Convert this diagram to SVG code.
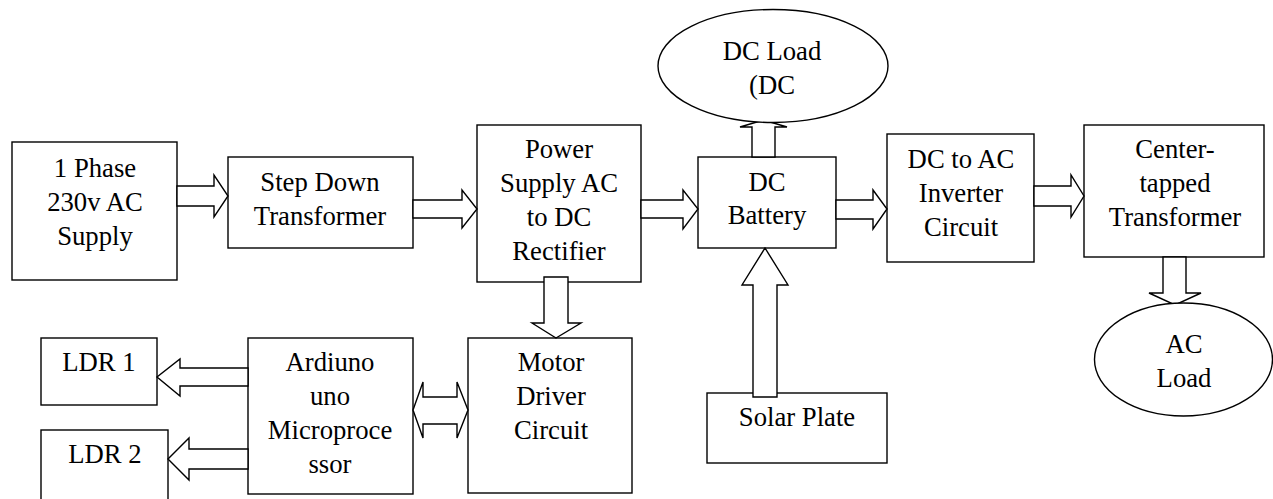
<svg xmlns="http://www.w3.org/2000/svg" width="1273" height="499" viewBox="0 0 1273 499">
<style>
.b{fill:#fff;stroke:#000;stroke-width:1.4}
.a{fill:#fff;stroke:#000;stroke-width:1.4;stroke-linejoin:miter}
.t{font-family:'Liberation Serif','DejaVu Serif',serif;font-size:26.7px;fill:#000;text-anchor:middle}
</style>
<rect width="1273" height="499" fill="#fff"/>
<g id="n-phase"><rect class="b" x="12" y="142" width="165" height="138"/><text class="t" x="95" y="177">1 Phase</text><text class="t" x="95" y="211">230v AC</text><text class="t" x="95" y="245">Supply</text></g>
<g id="n-stepdown"><rect class="b" x="228" y="157" width="185" height="91"/><text class="t" x="320" y="191">Step Down</text><text class="t" x="320" y="225">Transformer</text></g>
<g id="n-rectifier"><rect class="b" x="477" y="125" width="164" height="157"/><text class="t" x="559" y="158">Power</text><text class="t" x="559" y="192">Supply AC</text><text class="t" x="559" y="226">to DC</text><text class="t" x="559" y="260">Rectifier</text></g>
<g id="n-battery"><rect class="b" x="698" y="157" width="138" height="91"/><text class="t" x="767" y="191">DC</text><text class="t" x="767" y="224">Battery</text></g>
<g id="n-inverter"><rect class="b" x="887" y="134" width="147" height="128"/><text class="t" x="961" y="168">DC to AC</text><text class="t" x="961" y="202">Inverter</text><text class="t" x="961" y="236">Circuit</text></g>
<g id="n-ct"><rect class="b" x="1084" y="125" width="180" height="132"/><text class="t" x="1175" y="158">Center-</text><text class="t" x="1175" y="192">tapped</text><text class="t" x="1175" y="226">Transformer</text></g>
<g id="n-ldr1"><rect class="b" x="41" y="338" width="116" height="67"/><text class="t" x="99" y="371">LDR 1</text></g>
<g id="n-ldr2"><rect class="b" x="41" y="430" width="127" height="80"/><text class="t" x="105" y="463">LDR 2</text></g>
<g id="n-arduino"><rect class="b" x="248" y="338" width="165" height="156"/><text class="t" x="330" y="371">Ardiuno</text><text class="t" x="330" y="405">uno</text><text class="t" x="330" y="439">Microproce</text><text class="t" x="330" y="473">ssor</text></g>
<g id="n-motor"><rect class="b" x="468" y="338" width="164" height="155"/><text class="t" x="551" y="371">Motor</text><text class="t" x="551" y="405">Driver</text><text class="t" x="551" y="439">Circuit</text></g>
<g id="n-solar"><rect class="b" x="707" y="393" width="180" height="70"/><text class="t" x="797" y="426">Solar Plate</text></g>
<g id="connectors">
<polygon class="a" points="177,186 214,186 214,175 228,196 214,217 214,206 177,206"/>
<polygon class="a" points="413,200 462,200 462,190 477,209 462,228 462,218 413,218"/>
<polygon class="a" points="641,200 683,200 683,190 698,209 683,229 683,218 641,218"/>
<polygon class="a" points="836,200 873,200 873,190 887,209 873,229 873,219 836,219"/>
<polygon class="a" points="1034,186 1071,186 1071,175 1084,196 1071,217 1071,206 1034,206"/>
<polygon class="a" points="1163,257 1163,293 1149,293 1175,305 1201,293 1186,293 1186,257"/>
<polygon class="a" points="752,157 752,127 740,127 763.5,120 787,127 775,127 775,157"/>
<polygon class="a" points="753,397 753,285 742,285 765,248 788,285 777,285 777,397"/>
<polygon class="a" points="544,277 568,277 568,323 581,323 556,338 532,323 544,323"/>
<polygon class="a" points="248,368 180,368 180,359 157,377 180,396 180,386 248,386"/>
<polygon class="a" points="248,449 189,449 189,438 168,459 189,480 189,469 248,469"/>
<polygon class="a" points="413,410 423,382 423,397 457,397 457,382 468,410 457,438 457,424 423,424 423,438"/>
</g>
<g id="n-dcload"><ellipse class="b" cx="773" cy="66" rx="115" ry="56.5"/><text class="t" x="772" y="60">DC Load</text><text class="t" x="772" y="94">(DC</text></g>
<g id="n-acload"><ellipse class="b" cx="1183.5" cy="359.5" rx="89" ry="56.5"/><text class="t" x="1184" y="353">AC</text><text class="t" x="1184" y="387">Load</text></g>
</svg>
